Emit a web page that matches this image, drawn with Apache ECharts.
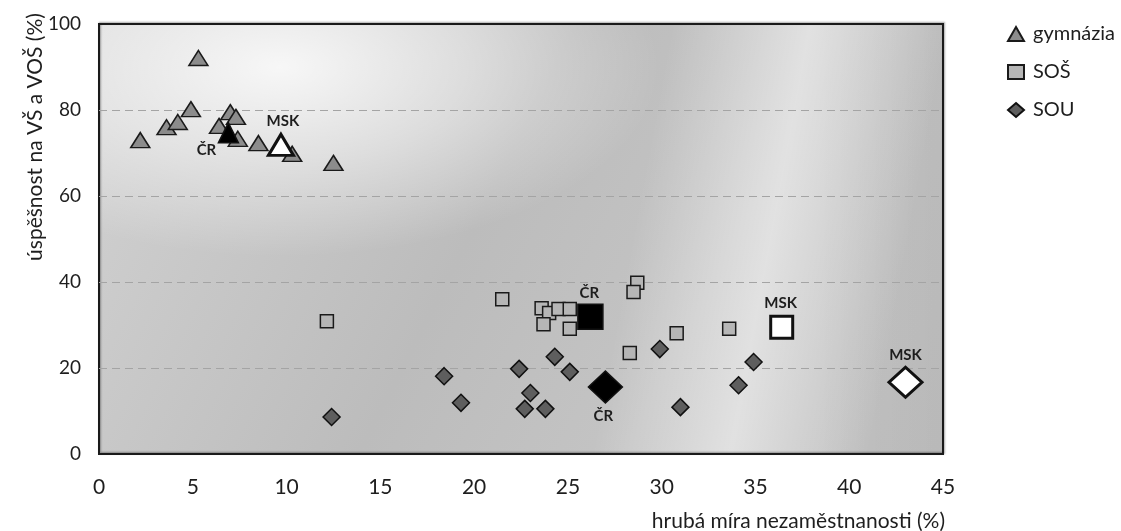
<!DOCTYPE html>
<html>
<head>
<meta charset="utf-8">
<script src="https://cdn.jsdelivr.net/npm/echarts@6/dist/echarts.min.js"></script>
<style>html,body{margin:0;padding:0;background:#fff}#c{width:1121px;height:531px}</style>
</head>
<body>
<div id="c"></div>
<script>
// ---- data ----
const xTicks = [0, 5, 10, 15, 20, 25, 30, 35, 40, 45];
const yTicks = [0, 20, 40, 60, 80, 100];

const gymX = [2.2, 3.6, 4.2, 4.9, 5.3, 6.4, 7.0, 7.3, 7.4, 8.5, 10.3, 12.5];
const gymY = [73.0, 76.0, 77.2, 80.2, 92.1, 76.3, 79.5, 78.4, 73.3, 72.3, 69.8, 67.7];
const gymCR = [6.9, 74.7];
const gymMSK = [9.7, 71.9];

const sosX = [12.15, 21.5, 23.6, 24.0, 23.7, 24.5, 25.1, 25.1, 28.7, 28.5, 30.8, 28.3, 33.6];
const sosY = [30.9, 36.0, 33.9, 32.8, 30.2, 33.7, 33.7, 29.1, 39.8, 37.7, 28.1, 23.5, 29.1];
const sosCR = [26.2, 31.9];
const sosMSK = [36.4, 29.5];

const souX = [12.4, 18.4, 19.3, 22.4, 23.0, 22.7, 23.8, 24.3, 25.1, 29.9, 31.0, 34.1, 34.9];
const souY = [8.6, 18.1, 11.9, 19.8, 14.2, 10.5, 10.5, 22.6, 19.1, 24.4, 10.9, 16.0, 21.4];
const souCR = [27.0, 15.6];
const souMSK = [43.0, 16.7];

const seriesNames = ['gymnázia', 'SOŠ', 'SOU'];
const labelCR = 'ČR';
const labelMSK = 'MSK';
const xName = 'hrubá míra nezaměstnanosti (%)';
const yName = 'úspěšnost na VŠ a VOŠ (%)';

// ---- layout ----
const G = { left: 99, top: 24, right: 178, bottom: 77 };
const W = 1121, H = 531;
const PW = W - G.left - G.right, PH = H - G.top - G.bottom;
const FONT = 'Lato, "Open Sans", sans-serif';
const lblStyle = { fontFamily: FONT, fontWeight: 'bold', fontSize: 15, color: '#1e1e1e' };

function pts(xs, ys) { return xs.map((x, i) => [x, ys[i]]); }
function special(p, fill, size, border, off, text) {
  return {
    value: p,
    symbolSize: size,
    itemStyle: { color: fill, borderColor: '#111', borderWidth: border },
    label: Object.assign({ show: true, formatter: text, position: 'inside', offset: off }, lblStyle)
  };
}

const chart = echarts.init(document.getElementById('c'), null, { renderer: 'canvas' });

const option = {
  animation: false,
  backgroundColor: '#fff',
  grid: Object.assign({}, G, {
    show: true, backgroundColor: 'transparent',
    borderColor: '#1a1a1a', borderWidth: 2,
    shadowColor: 'rgba(0,0,0,0.35)', shadowBlur: 2, shadowOffsetX: 1, shadowOffsetY: -1
  }),
  graphic: [
    { type: 'rect', z: -30, silent: true, shape: { x: G.left, y: G.top, width: PW, height: PH },
      style: { fill: new echarts.graphic.LinearGradient(0, 0, 1, 1, [
        { offset: 0, color: '#d2d2d2' }, { offset: 0.45, color: '#bcbcbc' },
        { offset: 0.7, color: '#c4c4c4' }, { offset: 1, color: '#c0c0c0' }]) } },
    { type: 'rect', z: -29, silent: true, shape: { x: G.left, y: G.top, width: PW, height: PH },
      style: { fill: new echarts.graphic.LinearGradient(0, 0, 1, 0, [
        { offset: 0, color: 'rgba(0,0,0,0)' }, { offset: 0.85, color: 'rgba(0,0,0,0)' },
        { offset: 1, color: 'rgba(0,0,0,0.04)' }]) } },
    { type: 'rect', z: -28, silent: true, x: G.left, y: G.top, scaleX: 2, scaleY: 1,
      shape: { x: 0, y: 0, width: PW / 2, height: PH },
      style: { fill: new echarts.graphic.RadialGradient(0.214, 0.1, 0.45, [
        { offset: 0, color: 'rgba(255,255,255,0.85)' }, { offset: 0.5, color: 'rgba(255,255,255,0.45)' },
        { offset: 1, color: 'rgba(255,255,255,0)' }]) } },
    { type: 'rect', z: -27, silent: true, shape: { x: G.left, y: G.top, width: PW, height: PH },
      style: { fill: new echarts.graphic.LinearGradient(0, 0, 1.058, 0.386, [
        { offset: 0, color: 'rgba(255,255,255,0)' }, { offset: 0.62, color: 'rgba(255,255,255,0)' },
        { offset: 0.77, color: 'rgba(255,255,255,0.5)' }, { offset: 0.92, color: 'rgba(255,255,255,0)' },
        { offset: 1, color: 'rgba(255,255,255,0)' }]) } },
    { type: 'text', silent: true, x: 35, y: 137, rotation: Math.PI / 2,
      style: { text: yName, font: '21px ' + FONT, fill: '#1e1e1e', align: 'center', verticalAlign: 'middle' } },
    { type: 'text', silent: true, x: G.left + PW + 2, y: 521,
      style: { text: xName, font: '21px ' + FONT, fill: '#1e1e1e', align: 'right', verticalAlign: 'middle' } }
  ],
  legend: {
    orient: 'vertical', left: 1002, top: 19, itemWidth: 16, itemHeight: 14, itemGap: 18,
    textStyle: { fontFamily: FONT, fontSize: 20, color: '#1e1e1e', padding: [0, 0, 0, 4] },
    data: [
      { name: seriesNames[0], icon: 'triangle' },
      { name: seriesNames[1], icon: 'rect' },
      { name: seriesNames[2], icon: 'diamond' }
    ]
  },
  xAxis: {
    type: 'value', min: xTicks[0], max: xTicks[xTicks.length - 1], interval: 5,
    axisLine: { show: false }, axisTick: { show: false }, splitLine: { show: false },
    axisLabel: { margin: 23, fontFamily: FONT, fontSize: 21, color: '#1e1e1e',
      formatter: v => xTicks.indexOf(v) >= 0 ? String(v) : '' }
  },
  yAxis: {
    type: 'value', min: yTicks[0], max: yTicks[yTicks.length - 1], interval: 20,
    axisLine: { show: false }, axisTick: { show: false },
    splitLine: { show: true, showMinLine: false, showMaxLine: false,
      lineStyle: { color: '#a4a4a4', width: 1, type: [8, 5] } },
    axisLabel: { margin: 18, fontFamily: FONT, fontSize: 19, color: '#1e1e1e' }
  },
  series: [
    { name: seriesNames[0], type: 'scatter', symbol: 'triangle', symbolSize: [19, 15], z: 5,
      itemStyle: { color: '#8c8c8c', borderColor: '#1a1a1a', borderWidth: 1.5, opacity: 1 },
      data: pts(gymX, gymY).concat([
        special(gymCR, '#000', [20, 20], 1.5, [-22, 17], labelCR),
        special(gymMSK, '#fff', [25, 21], 3, [2, -24], labelMSK)
      ]) },
    { name: seriesNames[1], type: 'scatter', symbol: 'rect', symbolSize: 13, z: 5,
      itemStyle: { color: '#b6b6b6', borderColor: '#1a1a1a', borderWidth: 1.5, opacity: 1 },
      data: pts(sosX, sosY).concat([
        special(sosCR, '#000', 25, 1.5, [-1, -24], labelCR),
        special(sosMSK, '#fff', 22, 3, [-1, -24], labelMSK)
      ]) },
    { name: seriesNames[2], type: 'scatter', symbol: 'diamond', symbolSize: 17, z: 5,
      itemStyle: { color: '#5e5e5e', borderColor: '#111', borderWidth: 1.5, opacity: 1 },
      data: pts(souX, souY).concat([
        special(souCR, '#000', [34, 32], 1.5, [-2, 29], labelCR),
        special(souMSK, '#fff', [33, 30], 3, [0, -27], labelMSK)
      ]) }
  ]
};
chart.setOption(option);
</script>
</body>
</html>
